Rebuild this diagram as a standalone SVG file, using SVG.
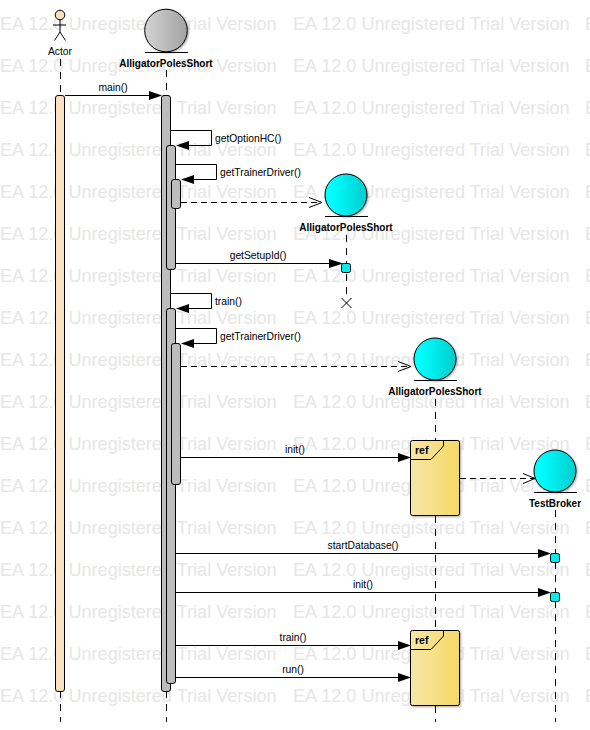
<svg xmlns="http://www.w3.org/2000/svg" width="590" height="730" viewBox="0 0 590 730">
<style>
text{font-family:"Liberation Sans",Arial,sans-serif}
.wm{font-size:18.100px;fill:#e6e6e6}
.lbl{font-size:10.300px;fill:#000;text-anchor:middle}
.msg{font-size:10.300px;fill:#000}
.name{font-size:10px;font-weight:bold;fill:#000;text-anchor:middle}
.life{stroke:#000;stroke-width:1;stroke-dasharray:7 6;fill:none}
.line{stroke:#000;stroke-width:1;fill:none}
.ret{stroke:#000;stroke-width:1;stroke-dasharray:6 4;fill:none}
.open{stroke:#000;stroke-width:1;fill:none}
.head{fill:#000}
.act{fill:#bdbdbd;stroke:#000;stroke-width:1}
.cyanbox{fill:#00eeee;stroke:#000;stroke-width:1}
.ball{stroke:#000;stroke-width:1;filter:url(#sh)}
.frame{fill:url(#gold);stroke:#000;stroke-width:1;filter:url(#sh)}
</style>
<defs>
<filter id="sh" x="-10%" y="-10%" width="125%" height="125%"><feDropShadow dx="1" dy="1" stdDeviation="0.800" flood-color="#000" flood-opacity="0.350"/></filter>
<linearGradient id="grey"><stop offset="0" stop-color="#d4d4d4"/><stop offset="1" stop-color="#a2a2a2"/></linearGradient>
<linearGradient id="cyan"><stop offset="0.15" stop-color="#00ffff"/><stop offset="1" stop-color="#00cccc"/></linearGradient>
<linearGradient id="gold"><stop offset="0" stop-color="#f8e6a8"/><stop offset="1" stop-color="#f5d964"/></linearGradient>
</defs>
<g id="watermark" class="wm">
<text x="0" y="29.500">EA 12.0 Unregistered Trial Version</text><text x="293" y="29.500">EA 12.0 Unregistered Trial Version</text><text x="585" y="29.500">EA 12.0 Unregistered Trial Version</text>
<text x="0" y="71.500">EA 12.0 Unregistered Trial Version</text><text x="293" y="71.500">EA 12.0 Unregistered Trial Version</text><text x="585" y="71.500">EA 12.0 Unregistered Trial Version</text>
<text x="0" y="113.500">EA 12.0 Unregistered Trial Version</text><text x="293" y="113.500">EA 12.0 Unregistered Trial Version</text><text x="585" y="113.500">EA 12.0 Unregistered Trial Version</text>
<text x="0" y="155.500">EA 12.0 Unregistered Trial Version</text><text x="293" y="155.500">EA 12.0 Unregistered Trial Version</text><text x="585" y="155.500">EA 12.0 Unregistered Trial Version</text>
<text x="0" y="197.500">EA 12.0 Unregistered Trial Version</text><text x="293" y="197.500">EA 12.0 Unregistered Trial Version</text><text x="585" y="197.500">EA 12.0 Unregistered Trial Version</text>
<text x="0" y="239.500">EA 12.0 Unregistered Trial Version</text><text x="293" y="239.500">EA 12.0 Unregistered Trial Version</text><text x="585" y="239.500">EA 12.0 Unregistered Trial Version</text>
<text x="0" y="281.500">EA 12.0 Unregistered Trial Version</text><text x="293" y="281.500">EA 12.0 Unregistered Trial Version</text><text x="585" y="281.500">EA 12.0 Unregistered Trial Version</text>
<text x="0" y="323.500">EA 12.0 Unregistered Trial Version</text><text x="293" y="323.500">EA 12.0 Unregistered Trial Version</text><text x="585" y="323.500">EA 12.0 Unregistered Trial Version</text>
<text x="0" y="365.500">EA 12.0 Unregistered Trial Version</text><text x="293" y="365.500">EA 12.0 Unregistered Trial Version</text><text x="585" y="365.500">EA 12.0 Unregistered Trial Version</text>
<text x="0" y="407.500">EA 12.0 Unregistered Trial Version</text><text x="293" y="407.500">EA 12.0 Unregistered Trial Version</text><text x="585" y="407.500">EA 12.0 Unregistered Trial Version</text>
<text x="0" y="449.500">EA 12.0 Unregistered Trial Version</text><text x="293" y="449.500">EA 12.0 Unregistered Trial Version</text><text x="585" y="449.500">EA 12.0 Unregistered Trial Version</text>
<text x="0" y="491.500">EA 12.0 Unregistered Trial Version</text><text x="293" y="491.500">EA 12.0 Unregistered Trial Version</text><text x="585" y="491.500">EA 12.0 Unregistered Trial Version</text>
<text x="0" y="533.500">EA 12.0 Unregistered Trial Version</text><text x="293" y="533.500">EA 12.0 Unregistered Trial Version</text><text x="585" y="533.500">EA 12.0 Unregistered Trial Version</text>
<text x="0" y="575.500">EA 12.0 Unregistered Trial Version</text><text x="293" y="575.500">EA 12.0 Unregistered Trial Version</text><text x="585" y="575.500">EA 12.0 Unregistered Trial Version</text>
<text x="0" y="617.500">EA 12.0 Unregistered Trial Version</text><text x="293" y="617.500">EA 12.0 Unregistered Trial Version</text><text x="585" y="617.500">EA 12.0 Unregistered Trial Version</text>
<text x="0" y="659.500">EA 12.0 Unregistered Trial Version</text><text x="293" y="659.500">EA 12.0 Unregistered Trial Version</text><text x="585" y="659.500">EA 12.0 Unregistered Trial Version</text>
<text x="0" y="701.500">EA 12.0 Unregistered Trial Version</text><text x="293" y="701.500">EA 12.0 Unregistered Trial Version</text><text x="585" y="701.500">EA 12.0 Unregistered Trial Version</text>
</g>
<g id="lifelines">
<path class="life" d="M60.500 59V95M60.500 691V722"/>
<path class="life" d="M166.500 70V95M166.500 691V722"/>
<path class="life" d="M346.500 235V298"/>
<path class="life" d="M435.500 399V440M435.500 516V630M435.500 706V722"/>
<path class="life" d="M555.500 510V722"/>
</g>
<g id="actor">
<circle cx="60" cy="15" r="4.800" fill="#f8deb8" stroke="#000"/>
<path class="line" d="M60 20V32M53 25H66M60 32L54.500 40.500M60 32L65.500 40.500"/>
<text x="60" y="55" class="lbl">Actor</text>
</g>
<g id="alligator1">
<circle cx="166" cy="30.500" r="21.300" fill="url(#grey)" class="ball"/>
<path class="line" d="M145 52.500H188"/>
<text x="166" y="67" class="name">AlligatorPolesShort</text>
</g>
<g id="alligator2">
<circle cx="346" cy="195" r="21" fill="url(#cyan)" class="ball"/>
<path class="line" d="M325 216.500H368"/>
<text x="346" y="231" class="name">AlligatorPolesShort</text>
</g>
<g id="alligator3">
<circle cx="435" cy="359" r="21" fill="url(#cyan)" class="ball"/>
<path class="line" d="M414 380.500H457"/>
<text x="435" y="395" class="name">AlligatorPolesShort</text>
</g>
<g id="testbroker">
<circle cx="555" cy="471" r="21" fill="url(#cyan)" class="ball"/>
<path class="line" d="M534 492.500H577"/>
<text x="555" y="507" class="name">TestBroker</text>
</g>
<g id="activations">
<rect x="55.500" y="95.500" width="9" height="596" rx="2.500" fill="#f8e0c0" stroke="#000"/>
<rect x="161.500" y="95.500" width="9" height="596" rx="2.500" class="act"/>
<rect x="166.500" y="145.500" width="9" height="124" rx="2.500" class="act"/>
<rect x="171.500" y="179.500" width="9" height="29" rx="2.500" class="act"/>
<rect x="166.500" y="308.500" width="9" height="375" rx="2.500" class="act"/>
<rect x="171.500" y="343.500" width="9" height="141" rx="2.500" class="act"/>
<rect x="341.500" y="263.500" width="9" height="9" rx="2" class="cyanbox"/>
<rect x="550.500" y="553.500" width="9" height="9" rx="2" class="cyanbox"/>
<rect x="550.500" y="592.500" width="9" height="9" rx="2" class="cyanbox"/>
</g>
<g id="ref1">
<rect x="410.500" y="440.500" width="49" height="75" rx="2" class="frame"/>
<path class="line" d="M410.500 459.500H431L443.500 446V440.500"/>
<text x="415" y="454" font-size="10.500" font-weight="bold">ref</text>
</g>
<g id="ref2">
<rect x="410.500" y="630.500" width="49" height="75" rx="2" class="frame"/>
<path class="line" d="M410.500 649.500H431L443.500 636V630.500"/>
<text x="415" y="644" font-size="10.500" font-weight="bold">ref</text>
</g>
<g id="connectors">
<path class="line" d="M65 95.500H150"/><path class="head" d="M162 95.500L149 91V100Z"/>
<path class="line" d="M171 130.500H211.500V145.500H187"/><path class="head" d="M176 145.500L189 141V150Z"/>
<path class="line" d="M176 164.500H216.500V179.500H192"/><path class="head" d="M181 179.500L194 175V184Z"/>
<path class="ret" d="M181 202.500H322"/><path class="open" d="M309 197.500L322 202.500L309 207.500"/>
<path class="line" d="M176 263.500H331"/><path class="head" d="M343 263.500L329 259V268Z"/>
<path class="line" d="M341.500 298L351.500 308M351.500 298L341.500 308"/>
<path class="line" d="M171 293.500H211.500V308.500H187"/><path class="head" d="M176 308.500L189 304V313Z"/>
<path class="line" d="M176 328.500H216.500V343.500H192"/><path class="head" d="M181 343.500L194 339V348Z"/>
<path class="ret" d="M181 366.500H411"/><path class="open" d="M398 361.500L411 366.500L398 371.500"/>
<path class="line" d="M181 457.500H400"/><path class="head" d="M411 457.500L398 453V462Z"/>
<path class="ret" d="M460 478.500H535"/><path class="open" d="M523 473.500L535 478.500L523 483.500"/>
<path class="line" d="M176 553.500H539"/><path class="head" d="M551 553.500L538 549V558Z"/>
<path class="line" d="M176 592.500H539"/><path class="head" d="M551 592.500L538 588V597Z"/>
<path class="line" d="M176 645.500H400"/><path class="head" d="M411 645.500L398 641V650Z"/>
<path class="line" d="M176 677.500H400"/><path class="head" d="M411 677.500L398 673V682Z"/>
</g>
<g id="labels">
<text x="113" y="91" class="lbl">main()</text>
<text x="215" y="142" class="msg">getOptionHC()</text>
<text x="220" y="176" class="msg">getTrainerDriver()</text>
<text x="258" y="259" class="lbl">getSetupId()</text>
<text x="215" y="305" class="msg">train()</text>
<text x="220" y="340" class="msg">getTrainerDriver()</text>
<text x="295" y="453" class="lbl">init()</text>
<text x="363" y="549" class="lbl">startDatabase()</text>
<text x="363" y="588" class="lbl">init()</text>
<text x="293" y="641" class="lbl">train()</text>
<text x="293" y="673" class="lbl">run()</text>
</g>
</svg>
